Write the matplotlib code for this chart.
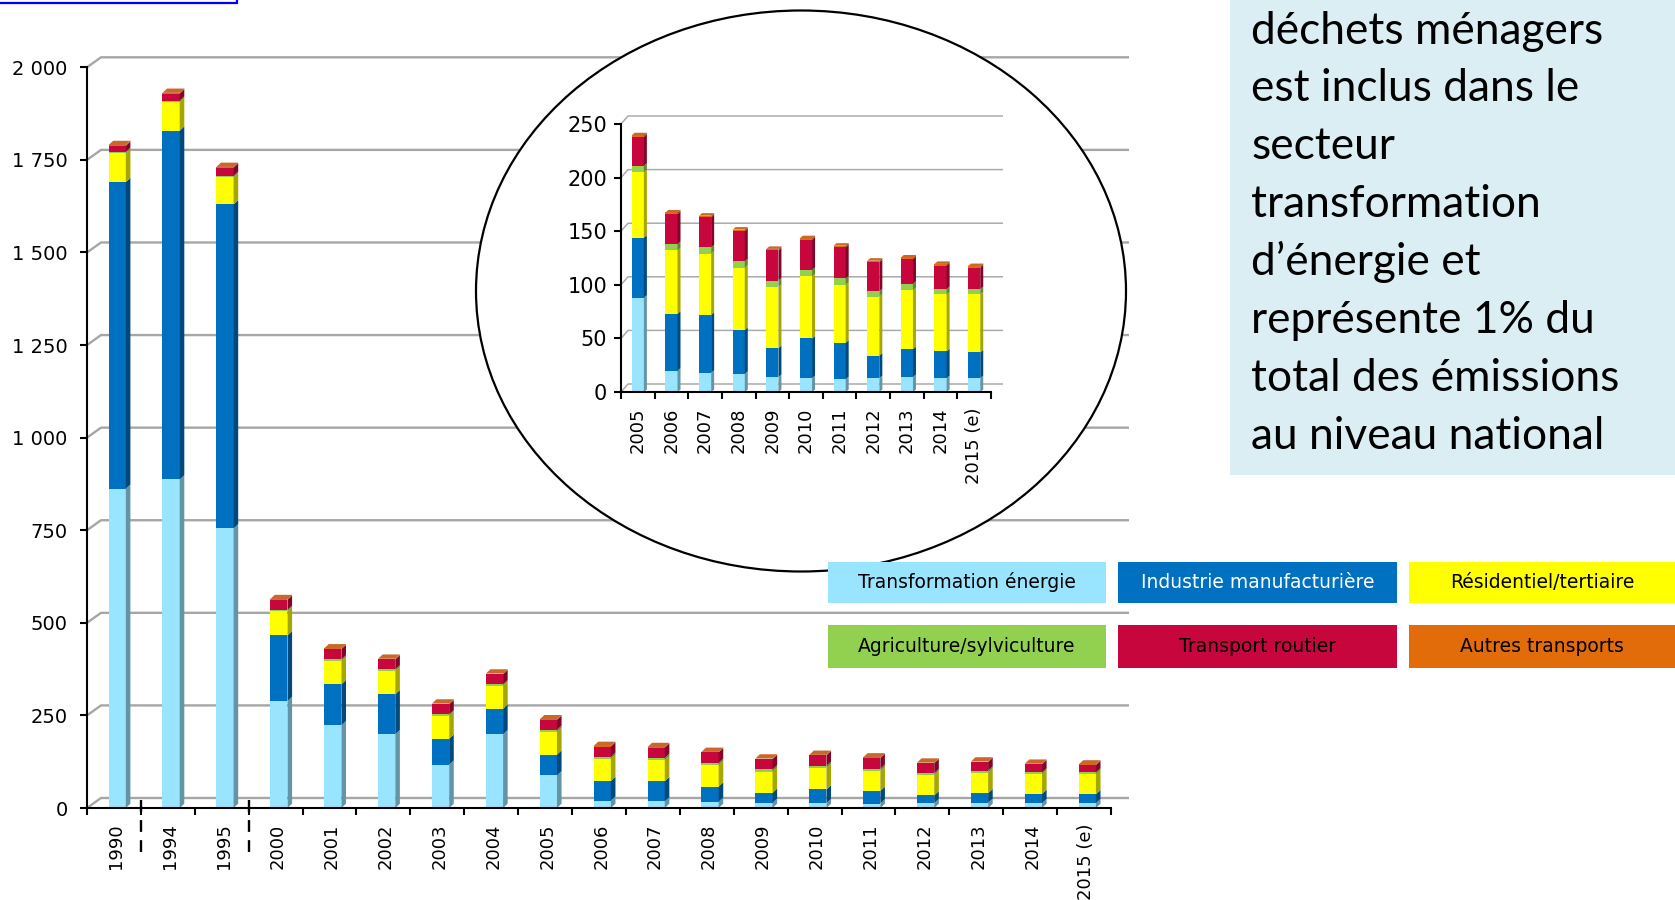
import numpy as np
import matplotlib.pyplot as plt
from matplotlib.patches import Polygon, Rectangle, Ellipse

# Emissions par secteur (en tonnes)
CATEGORIES = ['1990', '1994', '1995', '2000', '2001', '2002', '2003', '2004',
              '2005', '2006', '2007', '2008', '2009', '2010', '2011', '2012',
              '2013', '2014', '2015 (e)']
transformation = [862, 887, 755, 289, 223, 199, 117, 199, 88, 20, 18, 17, 14, 13, 12, 13, 14, 13, 13]
industrie = [828, 942, 875, 177, 111, 108, 70, 69, 56, 53, 54, 41, 27, 37, 34, 21, 26, 25, 24]
residentiel = [78, 77, 73, 65, 63, 63, 62, 62, 61, 59, 57, 58, 57, 58, 54, 55, 55, 53, 54]
agriculture = [4, 4, 4, 4, 4, 4, 4, 4, 6, 6, 6, 6, 6, 6, 6, 5, 6, 5, 5]
routier = [16, 19, 22, 27, 28, 27, 27, 27, 27, 28, 28, 28, 28, 28, 29, 27, 23, 22, 20]
autres = [2, 2, 2, 2, 2, 2, 2, 2, 1.5, 1.5, 1.5, 1.5, 1.5, 1.5, 1.5, 1.5, 1.5, 1.5, 1.5]

SECTEURS = ['Transformation énergie', 'Industrie manufacturière', 'Résidentiel/tertiaire',
            'Agriculture/sylviculture', 'Transport routier', 'Autres transports']
COULEURS = ['#99E5FF', '#0070C0', '#FFFF00', '#92D050', '#C8063E', '#E36C0A']
TEXTE_LEGENDE = ['black', 'white', 'black', 'black', 'black', 'black']

Y_MAIN = [0, 250, 500, 750, 1000, 1250, 1500, 1750, 2000]
Y_ZOOM = [0, 50, 100, 150, 200, 250]
ZOOM_DEBUT = 8  # 2005

NOTE = ['déchets ménagers', 'est inclus dans le', 'secteur', 'transformation',
        'd\u2019énergie et', 'représente 1% du', 'total des émissions', 'au niveau national']

W, H = 1675, 900
fig = plt.figure(figsize=(W / 100, H / 100), dpi=100)
plt.rcParams['font.family'] = ['DejaVu Sans']


def boite(x0, y0, x1, y1):
    # pixels comptés depuis le haut -> fraction de figure
    return [x0 / W, 1 - y1 / H, (x1 - x0) / W, (y1 - y0) / H]


def px_to_data(ax, dx_px, dy_px):
    pos = ax.get_position()
    w = pos.width * W
    h = pos.height * H
    x0, x1 = ax.get_xlim()
    y0, y1 = ax.get_ylim()
    return dx_px * (x1 - x0) / w, dy_px * (y1 - y0) / h


def assombrir(c, k=0.65):
    r, g, b = plt.matplotlib.colors.to_rgb(c)
    return (r * k, g * k, b * k)


def grille_fond(ax, ticks, off_px, x_end_px, color, lw):
    dx, dy = px_to_data(ax, *off_px)
    pos = ax.get_position()
    x0, x1 = ax.get_xlim()
    xend = x0 + (x_end_px - pos.x0 * W) * (x1 - x0) / (pos.width * W)
    for v in ticks:
        ax.plot([x0, x0 + dx, xend], [v, v + dy, v + dy], color=color, lw=lw,
                zorder=1, clip_on=False, solid_capstyle='butt')


def colonnes_3d(ax, x, series, width, side_px, top_px):
    dx, dy = px_to_data(ax, side_px, top_px)
    bottom = np.zeros(len(x))
    for vals, col in zip(series, COULEURS):
        vals = np.asarray(vals, dtype=float)
        ax.bar(x, vals, width, bottom=bottom, color=col, linewidth=0, zorder=3)
        cote = assombrir(col)
        for xi, b, v in zip(x, bottom, vals):
            xr = xi + width / 2
            ax.add_patch(Polygon([(xr, b), (xr + dx, b + dy), (xr + dx, b + v + dy), (xr, b + v)],
                                 closed=True, fc=cote, ec='none', zorder=3))
        bottom += vals
    for xi, t in zip(x, bottom):
        xl, xr = xi - width / 2, xi + width / 2
        ax.add_patch(Polygon([(xl, t), (xl + dx, t + dy), (xr + dx, t + dy), (xr, t)],
                             closed=True, fc='#C8682A', ec='none', zorder=3, clip_on=False))


def habiller(ax, yticks, fmt, ysize, xsize, ypad, xpad, labels, x, shift):
    for s in ['top', 'right']:
        ax.spines[s].set_visible(False)
    for s in ['left', 'bottom']:
        ax.spines[s].set_linewidth(1.5)
        ax.spines[s].set_zorder(4)
    ax.set_yticks(yticks)
    ax.set_yticklabels([fmt(v) for v in yticks])
    ax.tick_params(axis='y', direction='out', length=5, width=1.5, pad=ypad, labelsize=ysize)
    ax.set_xticks(np.arange(len(labels) + 1) - 0.5)
    ax.set_xticklabels([])
    ax.set_xticks(x + shift, minor=True)
    ax.set_xticklabels(labels, minor=True, rotation=90)
    ax.tick_params(axis='x', which='major', direction='out', length=5, width=1.5)
    ax.tick_params(axis='x', which='minor', length=0, pad=xpad, labelsize=xsize)
    ax.patch.set_alpha(0)


series = [transformation, industrie, residentiel, agriculture, routier, autres]

# graphique principal
main = fig.add_axes(boite(87, 67.3, 1111, 808), zorder=1)
main.set_xlim(-0.5, len(CATEGORIES) - 0.5)
main.set_ylim(0, 2000)
x = np.arange(len(CATEGORIES))
grille_fond(main, Y_MAIN, (14, 10), 1129, '#A6A6A6', 1.7)
colonnes_3d(main, x + 0.06, series, 0.32, 4.6, 4.3)
habiller(main, Y_MAIN, lambda v: f'{v:,}'.replace(',', ' '), 14, 13, 9, 11, CATEGORIES, x, 0.04)

# séparateurs pointillés entre 1990 / 1994 et 1995 / 2000
_, dyp = px_to_data(main, 0, 1)
for xs in [0.5, 2.5]:
    main.plot([xs, xs], [8 * dyp, -50 * dyp], color='black', lw=1.7,
              linestyle=(0, (5, 3.5)), clip_on=False, zorder=4)

# loupe sur 2005-2015
calque = fig.add_axes([0, 0, 1, 1], zorder=2)
calque.set_xlim(0, W)
calque.set_ylim(H, 0)
calque.axis('off')
calque.add_patch(Ellipse((801, 291), 650, 561, fc='white', ec='black', lw=1.6))

zoom = fig.add_axes(boite(621, 124, 991, 392), zorder=3)
cats_zoom = CATEGORIES[ZOOM_DEBUT:]
xz = np.arange(len(cats_zoom))
zoom.set_xlim(-0.5, len(cats_zoom) - 0.5)
zoom.set_ylim(0, 250)
grille_fond(zoom, Y_ZOOM, (7, 8), 1003, '#ABABAB', 1.1)
colonnes_3d(zoom, xz, [s[ZOOM_DEBUT:] for s in series], 0.36, 3, 2.5)
habiller(zoom, Y_ZOOM, str, 15, 13, 5, 11, cats_zoom, xz, 0.0)

# légende, note et cadre en haut à gauche
haut = fig.add_axes([0, 0, 1, 1], zorder=4)
haut.set_xlim(0, W)
haut.set_ylim(H, 0)
haut.axis('off')
haut.patch.set_alpha(0)

cols_x = [(828, 1106), (1118, 1397), (1409, 1680)]
rows_y = [(562, 603), (625, 668)]
for i, (nom, col, tc) in enumerate(zip(SECTEURS, COULEURS, TEXTE_LEGENDE)):
    x0, x1 = cols_x[i % 3]
    y0, y1 = rows_y[i // 3]
    haut.add_patch(Rectangle((x0, y0), x1 - x0, y1 - y0, fc=col, ec='none'))
    cx = (x0 + min(x1, W)) / 2
    haut.text(cx, (y0 + y1) / 2, nom, color=tc, fontsize=13.5, ha='center', va='center')

haut.add_patch(Rectangle((1230, -5), 460, 480, fc='#DBEEF3', ec='none'))
for i, ligne in enumerate(NOTE):
    haut.text(1251, 43.5 + i * 57.9, ligne, fontsize=31.9, family=['Lato', 'DejaVu Sans'],
              ha='left', va='baseline', color='black')

haut.add_patch(Rectangle((-5, -20), 242, 23, fc='white', ec='#0000FF', lw=1.6))

fig.savefig('out.png', dpi=100)
